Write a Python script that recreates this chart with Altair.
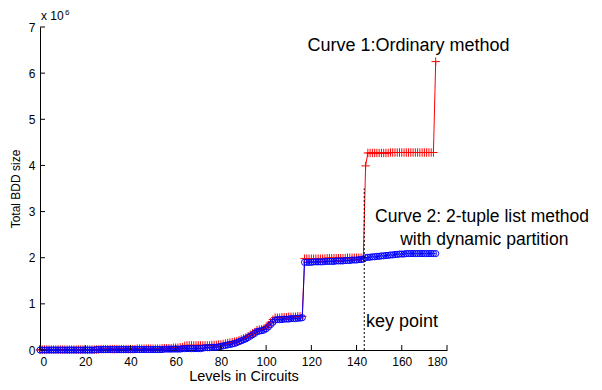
import altair as alt
import pandas as pd

# ---------------- data (values in units of 10^6) ----------------
levels = list(range(0, 176))

ordinary = [
    # 0-9
    0.00, 0.01, 0.01, 0.01, 0.01, 0.01, 0.01, 0.01, 0.01, 0.01,
    # 10-19
    0.01, 0.01, 0.01, 0.01, 0.01, 0.01, 0.01, 0.01, 0.01, 0.01,
    # 20-29
    0.01, 0.01, 0.01, 0.01, 0.01, 0.01, 0.01, 0.02, 0.02, 0.02,
    # 30-39
    0.02, 0.02, 0.02, 0.02, 0.02, 0.02, 0.02, 0.02, 0.02, 0.02,
    # 40-49
    0.02, 0.02, 0.02, 0.03, 0.03, 0.03, 0.03, 0.03, 0.03, 0.03,
    # 50-59
    0.03, 0.03, 0.03, 0.03, 0.04, 0.04, 0.04, 0.04, 0.04, 0.05,
    # 60-69
    0.05, 0.05, 0.06, 0.06, 0.09, 0.10, 0.10, 0.10, 0.10, 0.10,
    # 70-79
    0.10, 0.10, 0.10, 0.10, 0.10, 0.10, 0.11, 0.11, 0.11, 0.12,
    # 80-89
    0.12, 0.13, 0.14, 0.15, 0.16, 0.17, 0.18, 0.19, 0.21, 0.23,
    # 90-99
    0.25, 0.27, 0.30, 0.33, 0.36, 0.39, 0.43, 0.44, 0.45, 0.46,
    # 100-109
    0.50, 0.54, 0.60, 0.66, 0.70, 0.70, 0.70, 0.71, 0.71, 0.71,
    # 110-116
    0.72, 0.72, 0.72, 0.72, 0.73, 0.73, 0.73,
    # 117-143
    1.98, 1.98, 1.98, 1.98, 1.98, 1.98, 1.98, 1.98, 1.98, 1.98,
    1.99, 1.99, 1.99, 1.99, 1.99, 1.99, 1.99, 1.99, 1.99,
    2.00, 2.00, 2.00, 2.00, 2.00, 2.00, 2.00, 2.00,
    # 144
    3.99,
    # 145-174
    4.27, 4.27, 4.27, 4.27, 4.27, 4.27, 4.27, 4.27, 4.27, 4.27,
    4.28, 4.28, 4.28, 4.28, 4.28, 4.28, 4.28, 4.28, 4.28, 4.28,
    4.28, 4.28, 4.28, 4.28, 4.28, 4.28, 4.28, 4.28, 4.28, 4.28,
    # 175
    6.25,
]

tuple_list = [
    # 0-9
    0.00, 0.00, 0.00, 0.00, 0.00, 0.00, 0.00, 0.00, 0.00, 0.00,
    # 10-19
    0.00, 0.00, 0.00, 0.00, 0.00, 0.00, 0.00, 0.00, 0.00, 0.00,
    # 20-29
    0.00, 0.00, 0.00, 0.00, 0.00, 0.01, 0.01, 0.01, 0.01, 0.01,
    # 30-39
    0.01, 0.01, 0.01, 0.01, 0.01, 0.01, 0.01, 0.01, 0.01, 0.01,
    # 40-49
    0.01, 0.01, 0.01, 0.01, 0.01, 0.01, 0.01, 0.01, 0.01, 0.01,
    # 50-59
    0.01, 0.01, 0.01, 0.01, 0.01, 0.02, 0.02, 0.02, 0.02, 0.02,
    # 60-69
    0.02, 0.02, 0.02, 0.03, 0.03, 0.03, 0.03, 0.03, 0.03, 0.03,
    # 70-79
    0.03, 0.03, 0.04, 0.05, 0.05, 0.05, 0.06, 0.06, 0.06, 0.07,
    # 80-89
    0.08, 0.09, 0.10, 0.11, 0.12, 0.13, 0.14, 0.16, 0.18, 0.20,
    # 90-99
    0.22, 0.24, 0.27, 0.30, 0.33, 0.36, 0.40, 0.41, 0.42, 0.43,
    # 100-109
    0.46, 0.50, 0.55, 0.60, 0.65, 0.66, 0.66, 0.66, 0.67, 0.67,
    # 110-116
    0.67, 0.68, 0.68, 0.68, 0.69, 0.69, 0.70,
    # 117-143
    1.90, 1.90, 1.90, 1.90, 1.91, 1.91, 1.91, 1.91, 1.91, 1.92,
    1.92, 1.92, 1.92, 1.92, 1.93, 1.93, 1.93, 1.93, 1.94, 1.94,
    1.94, 1.95, 1.95, 1.95, 1.96, 1.96, 1.97,
    # 144-175
    2.00, 2.01, 2.01, 2.02, 2.02, 2.03, 2.03, 2.04, 2.04, 2.05,
    2.05, 2.06, 2.06, 2.07, 2.07, 2.08, 2.08, 2.08, 2.09, 2.09,
    2.09, 2.09, 2.09, 2.09, 2.09, 2.09, 2.09, 2.09, 2.09, 2.09,
    2.09, 2.09,
]

x_ticks = [0, 20, 40, 60, 80, 100, 120, 140, 160, 180]
y_ticks = [0, 1, 2, 3, 4, 5, 6, 7]

key_x = [143.4]
key_y0 = [0.0]
key_y1 = [3.5]

c1_text = ["Curve 1:Ordinary method"]
c1_x = [163.0]
c1_y = [6.59]

c2_text = ["Curve 2: 2-tuple list method", "with dynamic partition"]
c2_x = [195.5, 196.5]
c2_y = [2.88, 2.38]

key_text = ["key point"]
key_tx = [144.2]
key_ty = [0.61]

# ---------------- chart ----------------
W, H = 407, 323
FONT = "Liberation Sans"

df = pd.DataFrame({"level": levels, "ordinary": ordinary, "tuple_list": tuple_list})

xs = alt.Scale(domain=[0, 180], nice=False, zero=False)
ys = alt.Scale(domain=[0, 7], nice=False)

x_enc = alt.X("level:Q", scale=xs,
              axis=alt.Axis(values=x_ticks, title="Levels in Circuits", titleFontSize=14.5,
                            labelPadding=6, titlePadding=2, format="d"))
base = alt.Chart(df).encode(x=x_enc)

def yenc(field):
    return alt.Y(field, scale=ys,
                 axis=alt.Axis(values=y_ticks, title="Total BDD size", titleFontSize=12,
                               labelPadding=5, titlePadding=6, format="d"))

plus_path = "M-1,0L1,0M0,-1L0,1"

red_line = base.mark_line(color="#ff0000", strokeWidth=1).encode(y=yenc("ordinary:Q"))
red_pts = base.mark_point(shape=plus_path, stroke="#ff0000", size=70, strokeWidth=1,
                          filled=False, opacity=1).encode(y=yenc("ordinary:Q"))
blue_line = base.mark_line(color="#0000ff", strokeWidth=1).encode(y=yenc("tuple_list:Q"))
blue_pts = base.mark_point(shape="circle", stroke="#0000ff", size=38, strokeWidth=1,
                           filled=False, opacity=1).encode(y=yenc("tuple_list:Q"))

key_df = pd.DataFrame({"x": key_x, "y0": key_y0, "y1": key_y1})
key_rule = alt.Chart(key_df).mark_rule(color="black", strokeDash=[2, 2], strokeWidth=1).encode(
    x=alt.X("x:Q", scale=xs), y=alt.Y("y0:Q", scale=ys), y2="y1:Q")

c1_df = pd.DataFrame({"x": c1_x, "y": c1_y, "t": c1_text})
c1 = alt.Chart(c1_df).mark_text(font=FONT, fontSize=18, align="center", baseline="middle",
                                color="black").encode(
    x=alt.X("x:Q", scale=xs), y=alt.Y("y:Q", scale=ys), text="t:N")

c2_df = pd.DataFrame({"x": c2_x, "y": c2_y, "t": c2_text})
c2 = alt.Chart(c2_df).mark_text(font=FONT, fontSize=17.5, align="center", baseline="middle",
                                color="black").encode(
    x=alt.X("x:Q", scale=xs), y=alt.Y("y:Q", scale=ys), text="t:N")

kt_df = pd.DataFrame({"x": key_tx, "y": key_ty, "t": key_text})
kt = alt.Chart(kt_df).mark_text(font=FONT, fontSize=18, align="left", baseline="middle",
                                color="black").encode(
    x=alt.X("x:Q", scale=xs), y=alt.Y("y:Q", scale=ys), text="t:N")

# inward tick marks (MATLAB style)
xt_df = pd.DataFrame({"v": x_ticks})
xt = alt.Chart(xt_df).mark_rule(color="black", strokeWidth=1).encode(
    x=alt.X("v:Q", scale=xs), y=alt.value(H), y2=alt.value(H - 5))
yt_df = pd.DataFrame({"v": y_ticks})
yt = alt.Chart(yt_df).mark_rule(color="black", strokeWidth=1).encode(
    y=alt.Y("v:Q", scale=ys), x=alt.value(0), x2=alt.value(5))

# exponent label "x 10^6"
exp_df = pd.DataFrame({"t": ["x 10"]})
exp_txt = alt.Chart(exp_df).mark_text(font=FONT, fontSize=12, align="left", baseline="middle",
                                      color="black").encode(
    text="t:N", x=alt.value(1), y=alt.value(-11))
sup_df = pd.DataFrame({"t": ["6"]})
sup_txt = alt.Chart(sup_df).mark_text(font=FONT, fontSize=8, align="left", baseline="middle",
                                      color="black").encode(
    text="t:N", x=alt.value(25), y=alt.value(-14))

chart = alt.layer(
    red_line, red_pts, blue_line, blue_pts, key_rule, c1, c2, kt, xt, yt, exp_txt, sup_txt
).properties(
    width=W, height=H,
    autosize=alt.AutoSizeParams(type="none"),
    padding={"left": 32, "top": 19, "right": 147, "bottom": 32},
).configure_view(stroke=None).configure_axis(
    grid=False, domainColor="black", domainWidth=1, tickSize=0,
    labelFont=FONT, labelFontSize=12, labelColor="black",
    titleFont=FONT, titleFontWeight="normal", titleColor="black",
)

chart.save("out.html", embed_options={"renderer": "svg", "actions": False})
